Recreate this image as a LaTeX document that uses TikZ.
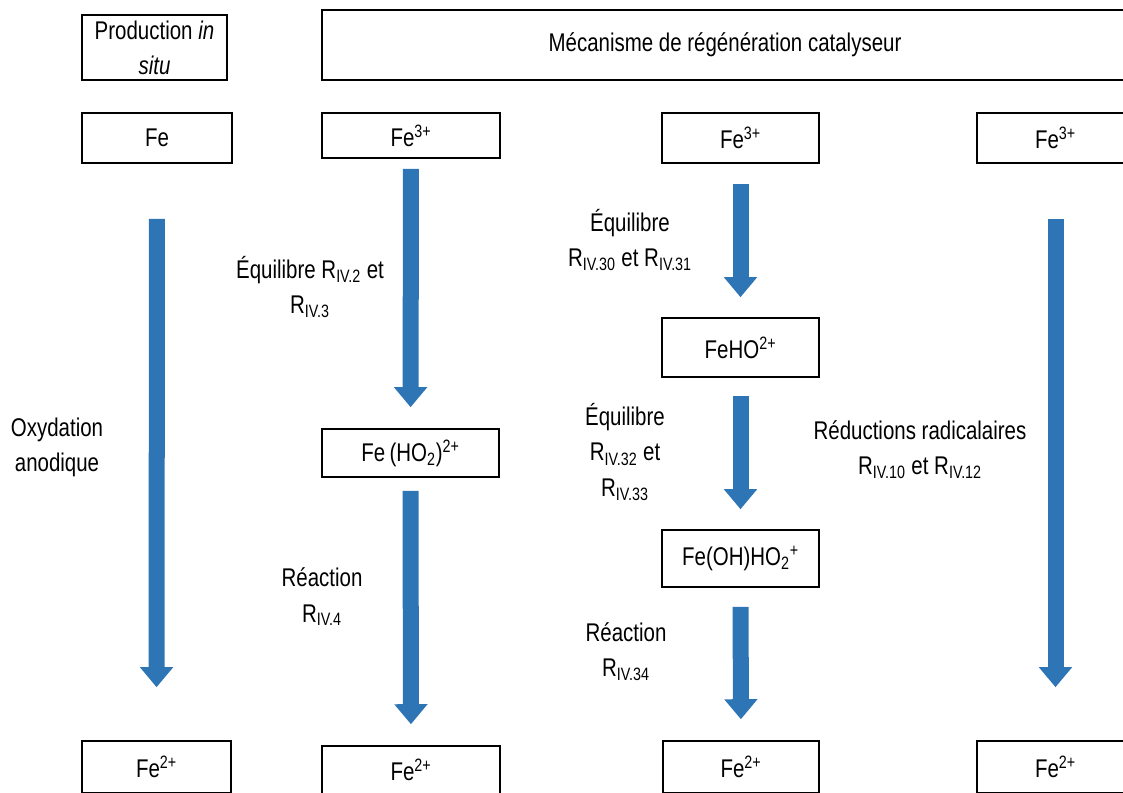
\documentclass[tikz,border=0pt]{standalone}
\usepackage{fontspec}
\setmainfont{Liberation Sans}[FakeStretch=0.8]
\usetikzlibrary{arrows.meta}
\definecolor{flowblue}{RGB}{46,117,182}

\begin{document}
\begin{tikzpicture}[
  x=0.025cm, y=-0.025cm,
  font=\fontsize{18.2}{25}\selectfont,
  box/.style={draw=black, line width=1.1pt, inner sep=0pt, align=center},
  lbl/.style={align=center, inner sep=0pt},
  flow/.style={flowblue, line width=0.4cm, -{Triangle[width=0.8cm,length=0.5cm]}}
]
\useasboundingbox (0,0) rectangle (1123,792);
\clip (0,0) rectangle (1123,792);

% headers
\node[box, minimum width=3.625cm, minimum height=1.625cm] (prod) at (154.5,47.5) {Production \textit{in}\\\textit{situ}};
\node[box, minimum width=20.15cm, minimum height=1.75cm] (meca) at (725,45) {Mécanisme de régénération catalyseur};

% top row
\node[box, minimum width=3.75cm, minimum height=1.25cm] (fe) at (157,138) {Fe};
\node[box, minimum width=4.45cm, minimum height=1.125cm] (fetroisa) at (411,135.5) {Fe\textsuperscript{3+}};
\node[box, minimum width=3.925cm, minimum height=1.25cm] (fetroisb) at (740.5,138) {Fe\textsuperscript{3+}};
\node[box, minimum width=3.925cm, minimum height=1.25cm] (fetroisc) at (1055.5,138) {Fe\textsuperscript{3+}};

% intermediates
\node[box, minimum width=4.425cm, minimum height=1.2cm] (feho2) at (410.5,453) {Fe\,(HO\textsubscript{2})\textsuperscript{2+}};
\node[box, minimum width=3.925cm, minimum height=1.475cm] (feho) at (740.5,347.5) {FeHO\textsuperscript{2+}};
\node[box, minimum width=3.925cm, minimum height=1.425cm] (feohho2) at (740.5,558.5) {Fe(OH)HO\textsubscript{2}\textsuperscript{+}};

% bottom row
\node[box, minimum width=3.725cm, minimum height=1.3cm] (fedeuxa) at (156.5,767) {Fe\textsuperscript{2+}};
\node[box, minimum width=4.45cm, minimum height=1.2cm] (fedeuxb) at (411,770) {Fe\textsuperscript{2+}};
\node[box, minimum width=3.9cm, minimum height=1.3cm] (fedeuxc) at (741,767) {Fe\textsuperscript{2+}};
\node[box, minimum width=3.925cm, minimum height=1.3cm] (fedeuxd) at (1055.5,767) {Fe\textsuperscript{2+}};

% arrows
\draw[flow, shorten <=1.375cm, shorten >=1.325cm] (fe) -- (fedeuxa);
\draw[flow, shorten <=0.25cm, shorten >=0.525cm] (fetroisa) -- (feho2);
\draw[flow, shorten <=0.325cm, shorten >=0.525cm] (feho2) -- (fedeuxb);
\draw[flow, shorten <=0.5cm, shorten >=0.5cm] (fetroisb) -- (feho);
\draw[flow, shorten <=0.45cm, shorten >=0.5cm] (feho) -- (feohho2);
\draw[flow, shorten <=0.475cm, shorten >=0.525cm] (feohho2) -- (fedeuxc);
\draw[flow, shorten <=1.375cm, shorten >=1.325cm] (fetroisc) -- (fedeuxd);

% labels
\node[lbl] (oxy) at (57,447) {Oxydation\\anodique};
\node[lbl] (eqa) at (310,287) {Équilibre R\textsubscript{IV.2} et\\R\textsubscript{IV.3}};
\node[lbl] (reaca) at (322,597) {Réaction\\R\textsubscript{IV.4}};
\node[lbl] (eqb) at (630,240) {Équilibre\\R\textsubscript{IV.30} et R\textsubscript{IV.31}};
\node[lbl] (eqc) at (625,452) {Équilibre\\R\textsubscript{IV.32} et\\R\textsubscript{IV.33}};
\node[lbl] (reacb) at (626,652) {Réaction\\R\textsubscript{IV.34}};
\node[lbl] (redu) at (920,450) {Réductions radicalaires\\R\textsubscript{IV.10} et R\textsubscript{IV.12}};
\end{tikzpicture}
\end{document}
